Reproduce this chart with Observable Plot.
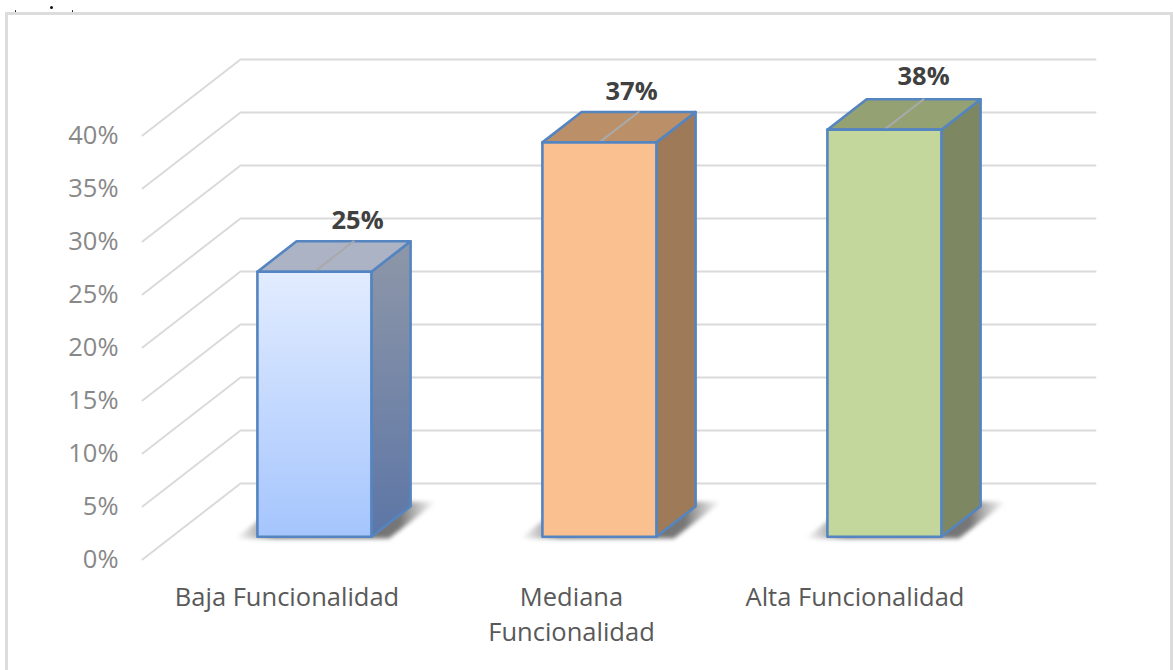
<!DOCTYPE html>
<html>
<head>
<meta charset="utf-8">
<script src="https://cdn.jsdelivr.net/npm/d3@7"></script>
<script src="https://cdn.jsdelivr.net/npm/@observablehq/plot@0.6"></script>
<style>
  html, body { margin: 0; padding: 0; background: #fff; overflow: hidden; }
  #wrap { position: relative; width: 1173px; height: 670px; }
  #frame { position: absolute; left: 5px; top: 12px; right: 0; bottom: -4px; border: 3px solid #dcdcdc; box-sizing: border-box; pointer-events: none; }
  .speck { position: absolute; background: #111; border-radius: 50%; }
  svg { display: block; }
</style>
</head>
<body>
<div id="wrap">
  <div class="speck" style="left:14.5px;top:10px;width:1.5px;height:1.5px"></div>
  <div class="speck" style="left:49.5px;top:6px;width:3px;height:3px"></div>
  <div class="speck" style="left:71.5px;top:10px;width:1.5px;height:1.5px"></div>
  <div id="frame"></div>
</div>
<script>
const categories = ["Baja Funcionalidad", "Mediana\nFuncionalidad", "Alta Funcionalidad"];
const values = [25, 37.2, 38.4];
const yTicks = [0, 5, 10, 15, 20, 25, 30, 35, 40];
const frontFill = ["url(#frontBlue)", "#fac090", "#c3d69b"];
const topFill = ["#acb3c5", "#bb9069", "#94a273"];
const sideFill = ["url(#sideBlue)", "#9e7a58", "#7d8863"];
const labelNudge = [4, -7, 0];
const labelRaise = [20, 20, 22];
const catNudge = [2, 1.5, 0];

// Oblique projection of the chart's 3-D space: category position c, value v, depth d (0 front, 1 back wall)
const depthX = 98 / 285;
const depthV = 76 / 10.6;
const P = (c, v, d) => ({ x: c + d * depthX, y: v + d * depthV });

const barFront = 0.30, barBack = 0.70, barHalf = 0.2;
const stroke = "#5585c0";

const defs = () => d3.create("svg:defs").html(`
  <linearGradient id="frontBlue" x1="0" y1="0" x2="0" y2="1">
    <stop offset="0" stop-color="#e2ecff"/><stop offset="1" stop-color="#a5c5fd"/>
  </linearGradient>
  <linearGradient id="sideBlue" x1="0" y1="0" x2="0" y2="1">
    <stop offset="0" stop-color="#8e97a8"/><stop offset="1" stop-color="#5d76a6"/>
  </linearGradient>
  <linearGradient id="shadow" x1="0" y1="0.5" x2="1" y2="0.5">
    <stop offset="0" stop-color="#777" stop-opacity="0"/>
    <stop offset="0.2" stop-color="#555" stop-opacity="0.85"/>
    <stop offset="0.82" stop-color="#555" stop-opacity="0.8"/>
    <stop offset="1" stop-color="#777" stop-opacity="0"/>
  </linearGradient>`).node();

const face = (pts, fill, extra = {}) =>
  Plot.line([...pts, pts[0]], { x: "x", y: "y", fill, stroke, strokeWidth: 2.6, strokeLinejoin: "round", ...extra });

const gridMarks = yTicks.map(t =>
  Plot.line([P(0, t, 0), P(0, t, 1), P(3, t, 1)], { x: "x", y: "y", stroke: "#dadada", strokeWidth: 2 })
);

const barMarks = values.flatMap((v, i) => {
  const l = i + 0.5 - barHalf, r = i + 0.5 + barHalf, m = i + 0.5;
  return [
    // floor shadow
    Plot.line([P(l - 0.07, 0, barFront - 0.025), P(r + 0.07, 0, barFront - 0.025), P(r + 0.07, 0, barBack + 0.06), P(l - 0.07, 0, barBack + 0.06)],
      { x: "x", y: "y", fill: "url(#shadow)", stroke: "none", imageFilter: "blur(2px)" }),
    face([P(r, v, barFront), P(r, v, barBack), P(r, 0, barBack), P(r, 0, barFront)], sideFill[i]),
    face([P(l, v, barFront), P(r, v, barFront), P(r, v, barBack), P(l, v, barBack)], topFill[i]),
    Plot.line([P(m, v, barFront), P(m, v, barBack)], { x: "x", y: "y", stroke: "#a9a9a9", strokeWidth: 2 }),
    face([P(l, 0, barFront), P(r, 0, barFront), P(r, v, barFront), P(l, v, barFront)], frontFill[i])
  ];
});

const dataLabels = values.map((v, i) => ({ ...P(i + 0.5, v, barBack), label: d3.format(".0f")(v) + "%", nudge: labelNudge[i], raise: labelRaise[i] }));
const catLabels = categories.map((name, i) => ({ x: i + 0.5, y: -2.07, name, nudge: catNudge[i] }));

const chart = Plot.plot({
  width: 1173,
  height: 670,
  marginTop: 0, marginRight: 0, marginBottom: 0, marginLeft: 118,
  style: { fontFamily: "'Open Sans', sans-serif", background: "transparent", overflow: "visible" },
  x: { type: "linear", domain: [0, 3], range: [142, 997], axis: null },
  y: { type: "linear", domain: [0, 40], range: [559, 135], axis: null },
  marks: [
    defs,
    ...gridMarks,
    Plot.axisY({ ticks: yTicks, tickFormat: d => d + "%", tickSize: 0, tickPadding: 0, anchor: "left", label: null, fontSize: 25.5, color: "#888888" }),
    ...barMarks,
    ...dataLabels.map(d => Plot.text([d], { x: "x", y: "y", text: "label", dx: d.nudge, dy: -d.raise, fontSize: 25.5, fontWeight: 700, fill: "#404040" })),
    ...catLabels.map(d => Plot.text([d], { x: "x", y: "y", text: "name", dx: d.nudge, fontSize: 25.5, fill: "#595959", lineAnchor: "top", lineHeight: 1.37, textAnchor: "middle" }))
  ]
});
document.getElementById("wrap").prepend(chart);
</script>
</body>
</html>
